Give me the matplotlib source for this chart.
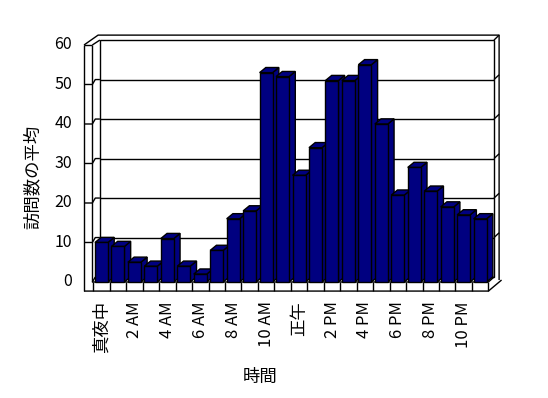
import matplotlib
matplotlib.use("Agg")
import matplotlib.pyplot as plt
from matplotlib.patches import Polygon, Rectangle

plt.rcParams['font.family'] = ['Noto Sans CJK JP', 'DejaVu Sans']

# data (average visits per hour)
hours = list(range(24))
visits = [10, 9, 5, 4, 11, 4, 2, 8, 16, 18, 53, 52,
          27, 34, 51, 51, 55, 40, 22, 29, 23, 19, 17, 16]
tick_labels = ['真夜中', '2 AM', '4 AM', '6 AM', '8 AM', '10 AM',
               '正午', '2 PM', '4 PM', '6 PM', '8 PM', '10 PM']
y_ticks = [0, 10, 20, 30, 40, 50, 60]

BAR = '#000080'
DX, DY = 0.40, 1.25      # depth offset of the chart box (data units)
BDX, BDY = 0.38, 1.3     # depth of each bar
LW = 1.0

fig = plt.figure(figsize=(5.48, 3.98), dpi=100)
ax = fig.add_axes([0, 0, 1, 1])
ax.set_xlim(-5.668, 27.62)
ax.set_ylim(-29.37, 71.39)
ax.axis('off')

n = len(hours)
top = y_ticks[-1]
k = dict(color='black', lw=LW, solid_capstyle='butt', zorder=1)

# back wall
ax.add_patch(Rectangle((DX, DY), n - 0.06, top, fill=False, ec='black', lw=LW, zorder=1))
# outer box top / right
ax.plot([-0.565, 0.29, n + 0.65, n + 0.65], [top, top + 2.5, top + 2.5, 0.5], **k)
ax.plot([-0.06, DX], [top, top + DY], **k)
ax.plot([n - 0.06 + DX, n + 0.65], [top + DY, top + 2.5], **k)

# left wall slab
ax.plot([-0.565, -0.565], [-2.3, top], **k)
ax.plot([-0.06, -0.06], [0, top], **k)
ax.plot([-0.565, -0.06], [top, top], **k)

# gridlines
for v in y_ticks[1:-1]:
    ax.plot([-0.565, -0.06, 0.12, DX], [v, v, v + DY, v + DY], **k)
    ax.plot([DX, n - 0.06 + DX], [v + DY, v + DY], **k)
    ax.plot([n - 0.06 + DX, n + 0.65], [v + DY, v + DY + 1.2], **k)
ax.plot([-0.06, 0.12], [0, DY], **k)

# floor slab
ax.plot([-0.565, n, n + 0.8], [-2.3, -2.3, 0.5], **k)
ax.plot([-0.06, n, n - 0.06 + DX], [0, 0, DY], **k)
for i in range(n + 1):
    ax.plot([i, i], [0, -2.3], **k)

# bars: side face, top face, front face
for i, v in zip(hours, visits):
    x0, x1 = i + 0.1, i + 0.89
    side = [(x1, 0), (x1 + BDX, BDY), (x1 + BDX, v + BDY), (x1, v)]
    lid = [(x0, v), (x1, v), (x1 + BDX, v + BDY), (x0 + BDX, v + BDY)]
    ax.add_patch(Polygon(side, closed=True, fc=BAR, ec='black', lw=LW, zorder=3))
    ax.add_patch(Polygon(lid, closed=True, fc=BAR, ec='black', lw=LW, zorder=3))
    ax.add_patch(Rectangle((x0, 0), x1 - x0, v, fc=BAR, ec='black', lw=LW, zorder=3))

# tick labels
for v in y_ticks:
    ax.text(-1.29, v, str(v), ha='right', va='center', fontsize=11.5)
for j, lab in enumerate(tick_labels):
    fs = 12.5 if lab in ('真夜中', '正午') else 12
    ax.text(2 * j + 0.5, -4.9, lab, ha='center', va='top', rotation=90, fontsize=fs)

ax.text(-3.66, 26.6, '訪問数の平均', ha='center', va='center', rotation=90, fontsize=12.5)
ax.text(10.13, -24.05, '時間', ha='center', va='center', fontsize=12.5)

fig.savefig('out.png', dpi=100)
